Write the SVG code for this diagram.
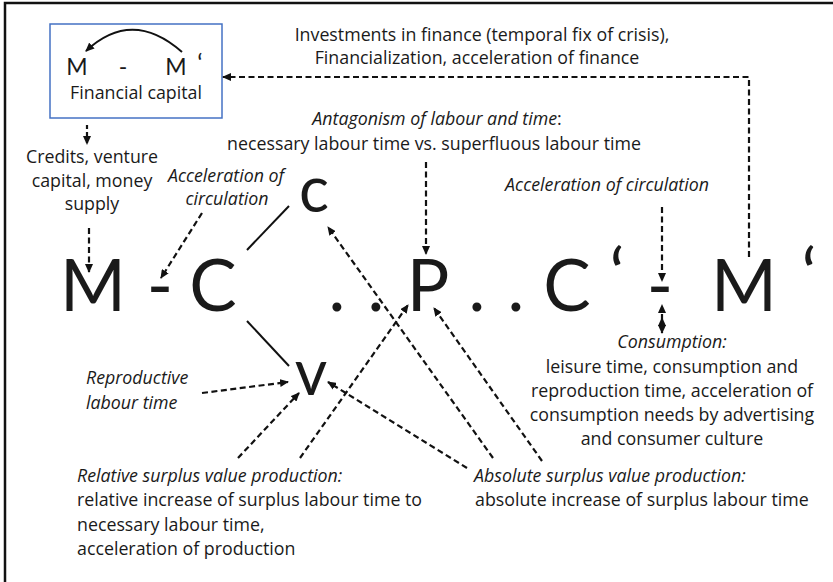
<svg xmlns="http://www.w3.org/2000/svg" width="833" height="582" viewBox="0 0 833 582">
<style>
.t{font-family:"Open Sans","Noto Sans","Liberation Sans",sans-serif;font-size:17.8px;fill:#1a1a1a}
.i{font-style:italic}
.m{text-anchor:middle}
.big{font-family:Lato,"Liberation Sans",sans-serif;font-size:71px;fill:#1a1a1a;text-anchor:middle}
.cv{font-family:Lato,"Liberation Sans",sans-serif;font-size:63px;fill:#1a1a1a;text-anchor:middle}
.d{fill:none;stroke:#111;stroke-width:2.2;stroke-dasharray:6 3.5;marker-end:url(#ah)}
.s{fill:none;stroke:#111;stroke-width:2}
</style>
<defs>
<marker id="ah" markerUnits="userSpaceOnUse" markerWidth="9" markerHeight="8" refX="8" refY="4" orient="auto">
<path d="M0,0 L9,4 L0,8 Z" fill="#111"/>
</marker>
<marker id="ahs" markerUnits="userSpaceOnUse" markerWidth="9" markerHeight="8" refX="1" refY="4" orient="auto">
<path d="M9,0 L0,4 L9,8 Z" fill="#111"/>
</marker>
</defs>
<rect x="5" y="3" width="900" height="700" fill="#fff" stroke="#111" stroke-width="2.5"/>

<g id="financial-capital">
<rect x="50" y="24" width="172" height="94" fill="#fff" stroke="#4472C4" stroke-width="1.5"/>
<path d="M182,52 Q132,8 86,51" fill="none" stroke="#111" stroke-width="2" marker-end="url(#ah)"/>
<text class="big" x="77" y="75" style="font-size:23px">M</text>
<text class="big" x="123" y="75" style="font-size:23px">-</text>
<text class="big" x="176" y="75" style="font-size:23px">M</text>
<text class="big" x="200" y="72" style="font-size:25px">‘</text>
<text class="t m" x="136" y="99">Financial capital</text>
</g>

<g id="finance-label">
<text class="t m" x="482" y="41">Investments in finance (temporal fix of crisis),</text>
<text class="t m" x="477" y="64">Financialization, acceleration of finance</text>
</g>

<g id="credits">
<text class="t m" x="92" y="163">Credits, venture</text>
<text class="t m" x="92" y="187">capital, money</text>
<text class="t m" x="92" y="210">supply</text>
</g>

<g id="acc-left">
<text class="t i m" x="226" y="182">Acceleration of</text>
<text class="t i m" x="227" y="205">circulation</text>
</g>

<g id="antagonism">
<text class="t m" x="437" y="125"><tspan class="i">Antagonism of labour and time</tspan>:</text>
<text class="t m" x="434" y="150">necessary labour time vs. superfluous labour time</text>
</g>

<g id="acc-right">
<text class="t i m" x="607" y="191">Acceleration of circulation</text>
</g>

<g id="formula">
<text class="big" x="93" y="311">M</text>
<text class="big" x="160" y="311">-</text>
<text class="big" x="213" y="311">C</text>
<text class="big" x="337" y="311">.</text>
<text class="big" x="376" y="311">.</text>
<text class="big" x="428" y="311">P</text>
<text class="big" x="477" y="311">.</text>
<text class="big" x="516" y="311">.</text>
<text class="big" x="567" y="311">C</text>
<text class="big" x="617" y="300">‘</text>
<text class="big" x="660" y="311">-</text>
<text class="big" x="744" y="311">M</text>
<text class="big" x="809" y="300">‘</text>
</g>

<g id="c-node"><text class="cv" x="314" y="212">c</text></g>
<g id="v-node"><text class="cv" x="311" y="395">v</text></g>

<g id="reproductive">
<text class="t i" x="86" y="384">Reproductive</text>
<text class="t i" x="86" y="409">labour time</text>
</g>

<g id="consumption">
<text class="t i m" x="672" y="348">Consumption:</text>
<text class="t m" x="672" y="373">leisure time,  consumption and</text>
<text class="t m" x="672" y="397">reproduction time, acceleration of</text>
<text class="t m" x="672" y="421">consumption needs by advertising</text>
<text class="t m" x="672" y="445">and consumer culture</text>
</g>

<g id="relative">
<text class="t i" x="77" y="482">Relative surplus value production:</text>
<text class="t" x="77" y="506">relative increase of surplus labour time to</text>
<text class="t" x="77" y="531">necessary labour time,</text>
<text class="t" x="77" y="555">acceleration of production</text>
</g>

<g id="absolute">
<text class="t i" x="474" y="482">Absolute surplus value production:</text>
<text class="t" x="475" y="506">absolute increase of surplus labour time</text>
</g>

<g id="connectors">
<line class="s" x1="289" y1="206" x2="247" y2="250"/>
<line class="s" x1="247" y1="321" x2="289" y2="366"/>
<path class="d" d="M749,257 V77 H223"/>
<path class="d" d="M87,125 V144" style="stroke-dasharray:4 3"/>
<path class="d" d="M89,228 V272"/>
<path class="d" d="M202,213 L161,278"/>
<path class="d" d="M426,162 V254"/>
<path class="d" d="M662,207 V281"/>
<path class="d" d="M662,318 V333" style="marker-start:url(#ahs);stroke-dasharray:4 3"/>
<path class="d" d="M662,318 V305" style="stroke-dasharray:4 3"/>
<path class="d" d="M493,458 L328,227"/>
<path class="d" d="M542,461 L434,308"/>
<path class="d" d="M467,468 L328,382"/>
<path class="d" d="M300,458 L408,305"/>
<path class="d" d="M238,458 L299,393"/>
<path class="d" d="M202,393 L288,382"/>
</g>
</svg>
